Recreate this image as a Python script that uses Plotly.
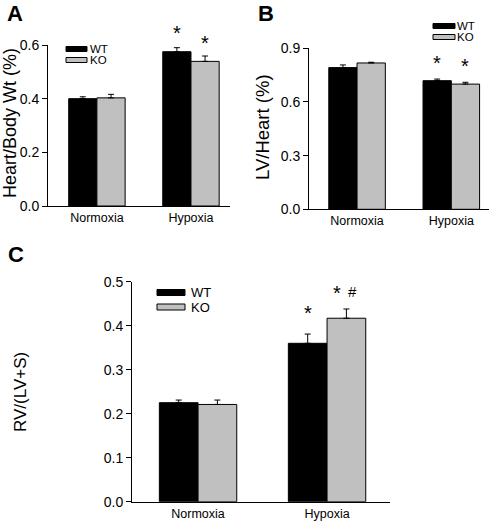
import plotly.graph_objects as go

groups = ["Normoxia", "Hypoxia"]
xpos = [0, 1]

a_wt = [0.400, 0.575]
a_wt_err = [0.007, 0.015]
a_ko = [0.403, 0.539]
a_ko_err = [0.013, 0.020]

b_wt = [0.792, 0.719]
b_wt_err = [0.015, 0.009]
b_ko = [0.818, 0.700]
b_ko_err = [0.004, 0.010]

c_wt = [0.225, 0.360]
c_wt_err = [0.006, 0.021]
c_ko = [0.221, 0.417]
c_ko_err = [0.010, 0.021]

FONT = "Liberation Sans, Arial, sans-serif"
GRAY = "#c0c0c0"

fig = go.Figure()

panels = [
    ("x", "y", a_wt, a_wt_err, a_ko, a_ko_err),
    ("x2", "y2", b_wt, b_wt_err, b_ko, b_ko_err),
    ("x3", "y3", c_wt, c_wt_err, c_ko, c_ko_err),
]
for xa, ya, wt, wte, ko, koe in panels:
    fig.add_trace(go.Bar(x=xpos, y=wt, width=0.3, offset=-0.3, xaxis=xa, yaxis=ya,
                         marker=dict(color="black", line=dict(color="black", width=1)),
                         error_y=dict(type="data", array=wte, arrayminus=[0, 0], symmetric=False,
                                      color="black", thickness=1, width=3),
                         showlegend=False))
    fig.add_trace(go.Bar(x=xpos, y=ko, width=0.3, offset=0, xaxis=xa, yaxis=ya,
                         marker=dict(color=GRAY, line=dict(color="black", width=1)),
                         error_y=dict(type="data", array=koe, arrayminus=[0, 0], symmetric=False,
                                      color="black", thickness=1, width=3),
                         showlegend=False))

W, H = 498, 524
def px(x): return x / W
def py(y): return 1 - y / H

xcommon = dict(showline=True, linecolor="black", linewidth=1, ticks="", showgrid=False,
               zeroline=False, tickvals=xpos, ticktext=groups,
               tickfont=dict(family=FONT, size=12.5, color="black"))
ycommon = dict(showline=True, linecolor="black", linewidth=1, ticks="outside", ticklen=5,
               tickcolor="black", showgrid=False, zeroline=False,
               tickfont=dict(family=FONT, size=14, color="black"))

fig.update_layout(
    width=W, height=H, margin=dict(l=0, r=0, t=0, b=0, autoexpand=False),
    plot_bgcolor="white", paper_bgcolor="white", barmode="overlay",
    xaxis=dict(domain=[px(48), px(230)], range=[-0.52, 1.415], anchor="y", **xcommon),
    yaxis=dict(domain=[py(206), py(45)], range=[0, 0.6], tickvals=[0, 0.2, 0.4, 0.6],
               tickformat=".1f", anchor="x", **ycommon),
    xaxis2=dict(domain=[px(309), px(489)], range=[-0.51, 1.40], anchor="y2", **xcommon),
    yaxis2=dict(domain=[py(209.3), py(48.3)], range=[0, 0.9], tickvals=[0, 0.3, 0.6, 0.9],
                tickformat=".1f", anchor="x2", **ycommon),
    xaxis3=dict(domain=[px(132), px(390)], range=[-0.512, 1.488], anchor="y3", **xcommon),
    yaxis3=dict(domain=[py(501.7), py(281.7)], range=[0, 0.5],
                tickvals=[0, 0.1, 0.2, 0.3, 0.4, 0.5], tickformat=".1f", anchor="x3", **ycommon),
)

ann = []
# panel letters
for letter, x, y in [("A", 15, 14), ("B", 266, 14), ("C", 16, 254)]:
    ann.append(dict(text=f"<b>{letter}</b>", x=px(x), y=py(y), xref="paper", yref="paper",
                    xanchor="center", yanchor="middle",
                    showarrow=False, font=dict(family=FONT, size=22, color="black")))
# y titles
for t, x, y, s in [("Heart/Body Wt (%)", 10, 123, 18), ("LV/Heart (%)", 262, 127, 18.5),
                   ("RV/(LV+S)", 20, 392, 17)]:
    ann.append(dict(text=t, x=px(x), y=py(y), xref="paper", yref="paper", textangle=-90,
                    xanchor="center", yanchor="middle",
                    showarrow=False, font=dict(family=FONT, size=s, color="black")))

# significance markers
def mark(xr, yr, xv, yv, txt, shift, size=20):
    ann.append(dict(text=txt, x=xv, y=yv, xref=xr, yref=yr, showarrow=False,
                    xanchor="center", yanchor="bottom", yshift=shift,
                    font=dict(family=FONT, size=size, color="black")))

mark("x", "y", 0.85, a_wt[1] + a_wt_err[1], "*", 2)
mark("x", "y", 1.15, a_ko[1] + a_ko_err[1], "*", 0)
mark("x2", "y2", 0.85, b_wt[1] + b_wt_err[1], "*", 3)
mark("x2", "y2", 1.15, b_ko[1] + b_ko_err[1], "*", 3)
mark("x3", "y3", 0.85, c_wt[1] + c_wt_err[1], "*", 8)
mark("x3", "y3", 1.08, c_ko[1] + c_ko_err[1], "*", 3)
ann.append(dict(text="#", x=1.2, y=c_ko[1] + c_ko_err[1], xref="x3", yref="y3", showarrow=False,
                xanchor="center", yanchor="bottom", yshift=7,
                font=dict(family=FONT, size=15, color="black")))

# legends
shapes = []
def legend(x0, x1, ys, h, tx, size):
    for (y, col, lab) in zip(ys, ["black", GRAY], ["WT", "KO"]):
        shapes.append(dict(type="rect", xref="paper", yref="paper", x0=px(x0), x1=px(x1),
                           y0=py(y + h / 2), y1=py(y - h / 2), fillcolor=col,
                           line=dict(color="black", width=1)))
        ann.append(dict(text=lab, x=px(tx), y=py(y), xref="paper", yref="paper", showarrow=False,
                        xanchor="left", yanchor="middle", borderpad=0,
                        font=dict(family=FONT, size=size, color="black")))

legend(66, 87, [49, 60], 5, 89, 11.5)
legend(433, 455, [26, 37], 5, 456, 11.5)
legend(157, 185, [292.5, 307], 6, 190, 13)

fig.update_layout(annotations=ann, shapes=shapes)
fig.write_html("out.html", config={"displayModeBar": False},
               post_script="document.body.style.margin='0';document.body.style.overflow='hidden';")
